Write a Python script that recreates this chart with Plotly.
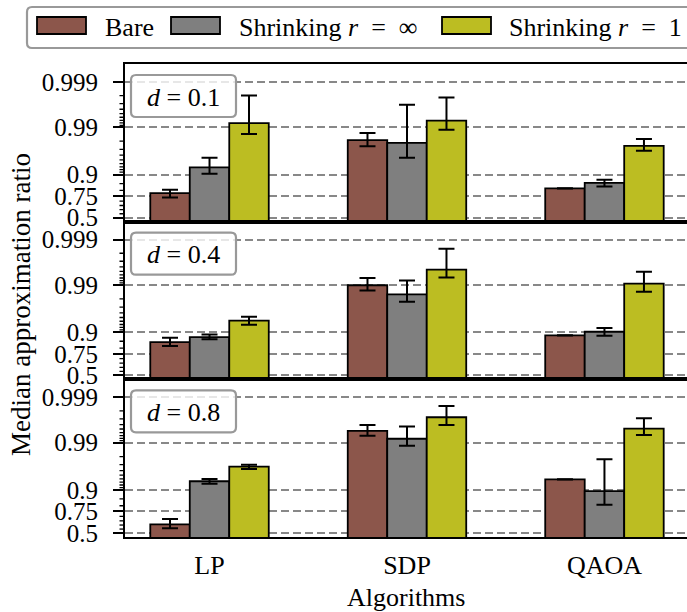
import numpy as np
import plotly.graph_objects as go
from plotly.subplots import make_subplots

# ---------------- data ----------------
algorithms = ["LP", "SDP", "QAOA"]
series_names = ["Bare", "Shrinking <i>r</i>\u2002=\u2002∞", "Shrinking <i>r</i>\u2002=\u20021"]
series_colors = ["#8c564b", "#7f7f7f", "#bcbd22"]
panel_labels = ["<i>d</i> = 0.1", "<i>d</i> = 0.4", "<i>d</i> = 0.8"]
tick_probs = [0.5, 0.75, 0.9, 0.99, 0.999]
tick_text = ["0.5", "0.75", "0.9", "0.99", "0.999"]

# d = 0.1
d01_bare_med = [0.778, 0.981, 0.816]
d01_bare_lo = [0.737, 0.9744, 0.8155]
d01_bare_hi = [0.806, 0.9868, 0.8165]
d01_inf_med = [0.928, 0.9783, 0.855]
d01_inf_lo = [0.903, 0.955, 0.831]
d01_inf_hi = [0.955, 0.9968, 0.873]
d01_one_med = [0.9919, 0.9929, 0.9748]
d01_one_lo = [0.986, 0.9887, 0.968]
d01_one_hi = [0.998, 0.9978, 0.982]

# d = 0.4
d04_bare_med = [0.844, 0.9899, 0.884]
d04_bare_lo = [0.816, 0.9868, 0.8835]
d04_bare_hi = [0.871, 0.993, 0.8845]
d04_inf_med = [0.875, 0.984, 0.902]
d04_inf_lo = [0.862, 0.977, 0.883]
d04_inf_hi = [0.889, 0.992, 0.918]
d04_one_med = [0.942, 0.9954, 0.9907]
d04_one_lo = [0.929, 0.9932, 0.986]
d04_one_hi = [0.952, 0.9984, 0.9949]

# d = 0.8
d08_bare_med = [0.608, 0.9945, 0.9387]
d08_bare_lo = [0.56, 0.993, 0.9384]
d08_bare_hi = [0.67, 0.9959, 0.939]
d08_inf_med = [0.933, 0.9918, 0.894]
d08_inf_lo = [0.925, 0.9883, 0.809]
d08_inf_hi = [0.940, 0.9956, 0.977]
d08_one_med = [0.967, 0.99724, 0.9951]
d08_one_lo = [0.963, 0.9959, 0.9932]
d08_one_hi = [0.970, 0.99845, 0.9971]

panels = [
    [(d01_bare_med, d01_bare_lo, d01_bare_hi), (d01_inf_med, d01_inf_lo, d01_inf_hi), (d01_one_med, d01_one_lo, d01_one_hi)],
    [(d04_bare_med, d04_bare_lo, d04_bare_hi), (d04_inf_med, d04_inf_lo, d04_inf_hi), (d04_one_med, d04_one_lo, d04_one_hi)],
    [(d08_bare_med, d08_bare_lo, d08_bare_hi), (d08_inf_med, d08_inf_lo, d08_inf_hi), (d08_one_med, d08_one_lo, d08_one_hi)],
]

# ---------------- logit scale helpers ----------------
OFF = 0.3  # bars start at logit = -OFF (below visible range)


def lg(p):
    p = np.asarray(p, dtype=float)
    return np.log(p / (1 - p)) + OFF


minor_probs = ([0.55, 0.6, 0.65, 0.7, 0.8, 0.85]
               + [0.91, 0.92, 0.93, 0.94, 0.95, 0.96, 0.97, 0.98]
               + [0.991, 0.992, 0.993, 0.994, 0.995, 0.996, 0.997, 0.998])

W, H = 687, 612
L, R, T, B = 125, 0, 64, 75
PW, PH = W - L - R, H - T - B
FONT = "Liberation Serif, Times New Roman, serif"


def px(x, y):
    return (x - L) / PW, (H - B - y) / PH


def rrect(x0, y0, x1, y1, r):
    def P(x, y):
        a, b = px(x, y)
        return f"{a:.5f},{b:.5f}"
    return (f"M{P(x0 + r, y0)} L{P(x1 - r, y0)} Q{P(x1, y0)} {P(x1, y0 + r)} "
            f"L{P(x1, y1 - r)} Q{P(x1, y1)} {P(x1 - r, y1)} L{P(x0 + r, y1)} "
            f"Q{P(x0, y1)} {P(x0, y1 - r)} L{P(x0, y0 + r)} Q{P(x0, y0)} {P(x0 + r, y0)} Z")


fig = make_subplots(rows=3, cols=1, shared_xaxes=True, vertical_spacing=0)

xs = np.arange(len(algorithms))
offsets = [-0.2, 0.0, 0.2]
for row, panel in enumerate(panels, start=1):
    for k, (med, lo, hi) in enumerate(panel):
        m = lg(med)
        fig.add_trace(go.Bar(
            x=xs + offsets[k], y=m, width=0.2,
            marker=dict(color=series_colors[k], line=dict(color="black", width=1.8)),
            error_y=dict(type="data", symmetric=False,
                         array=lg(hi) - m, arrayminus=m - lg(lo),
                         color="black", thickness=2, width=8),
            showlegend=False, name=series_names[k],
        ), row=row, col=1)

yrange = [-0.203 + OFF, 7.82 + OFF]
for row in range(1, 4):
    fig.update_yaxes(
        row=row, col=1, range=yrange,
        tickmode="array", tickvals=lg(tick_probs), ticktext=tick_text,
        ticks="outside", ticklen=10, tickwidth=2, tickcolor="black",
        ticklabelstandoff=10,
        showline=True, linecolor="black", linewidth=2,
        showgrid=True, gridcolor="#888888", gridwidth=2, griddash="8px,4px",
        zeroline=False,
        tickfont=dict(family=FONT, size=25, color="black"),
    )
    fig.update_xaxes(
        row=row, col=1, range=[-0.428, 2.418],
        tickmode="array", tickvals=list(xs), ticktext=algorithms,
        ticks="", showgrid=False, zeroline=False,
        showline=True, linecolor="black", linewidth=2, mirror=True,
        tickfont=dict(family=FONT, size=26, color="black"),
        ticklabelstandoff=4,
    )

shapes = []
annotations = []
# minor ticks on the logit axes
yrefs = ["y", "y2", "y3"]
mx0, _ = px(119.5, 0)
mx1, _ = px(124.5, 0)
for yr in yrefs:
    for v in lg(minor_probs):
        shapes.append(dict(type="line", xref="paper", yref=yr, x0=mx0, x1=mx1, y0=v, y1=v,
                           line=dict(color="black", width=1.3), layer="above"))

# panel label boxes
for i, lab in enumerate(panel_labels):
    top = T + i * PH / 3
    x0, x1 = 131, 236
    y0, y1 = top + 11, top + 53
    shapes.append(dict(type="path", xref="paper", yref="paper", path=rrect(x0, y0, x1, y1, 5),
                       line=dict(color="#999999", width=2.2), fillcolor="rgba(255,255,255,0.8)",
                       layer="above"))
    cx, cy = px((x0 + x1) / 2, (y0 + y1) / 2 + 1)
    annotations.append(dict(xref="paper", yref="paper", x=cx, y=cy, text=lab, showarrow=False,
                            xanchor="center", yanchor="middle",
                            font=dict(family=FONT, size=26, color="black")))

# legend (manual)
shapes.append(dict(type="path", xref="paper", yref="paper", path=rrect(27, 7, 705, 48, 5),
                   line=dict(color="#999999", width=2.2), fillcolor="white", layer="above"))
legend_patch_x = [37, 171, 442]
legend_text_x = [103, 237, 507]
for k in range(3):
    a0, b0 = px(legend_patch_x[k], 17)
    a1, b1 = px(legend_patch_x[k] + 49, 34)
    shapes.append(dict(type="rect", xref="paper", yref="paper", x0=a0, x1=a1, y0=b0, y1=b1,
                       line=dict(color="black", width=1.8), fillcolor=series_colors[k], layer="above"))
    tx, ty = px(legend_text_x[k], 27)
    annotations.append(dict(xref="paper", yref="paper", x=tx, y=ty, text=series_names[k],
                            showarrow=False, xanchor="left", yanchor="middle",
                            font=dict(family=FONT, size=26, color="black")))

# axis titles
ax, ay = px(406, 597)
annotations.append(dict(xref="paper", yref="paper", x=ax, y=ay, text="Algorithms", showarrow=False,
                        xanchor="center", yanchor="middle",
                        font=dict(family=FONT, size=26, color="black")))
bx, by = px(21, 305)
annotations.append(dict(xref="paper", yref="paper", x=bx, y=by, text="Median approximation ratio",
                        showarrow=False, textangle=-90, xanchor="center", yanchor="middle",
                        font=dict(family=FONT, size=27, color="black")))

fig.update_layout(
    width=W, height=H,
    margin=dict(l=L, r=R, t=T, b=B, pad=0),
    paper_bgcolor="white", plot_bgcolor="white",
    barmode="overlay", showlegend=False,
    shapes=shapes, annotations=annotations,
    font=dict(family=FONT, size=25, color="black"),
)

fig.write_html("out.html")
